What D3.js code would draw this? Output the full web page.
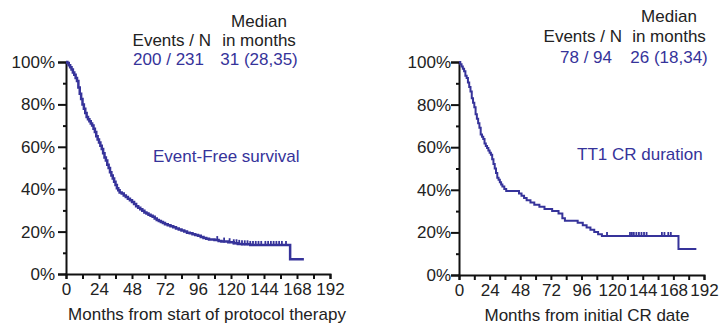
<!DOCTYPE html>
<html><head><meta charset="utf-8">
<script src="https://cdn.jsdelivr.net/npm/d3@7"></script>
<style>
body{margin:0;background:#fff;}
svg text{font-family:"Liberation Sans",Arial,Helvetica,sans-serif;}
</style></head>
<body><svg id="c" width="724" height="327"></svg>
<script>
// ---- Data ----
const xTicks = [0,24,48,72,96,120,144,168,192];
const yTicks = [0,20,40,60,80,100];

// Panel A: Event-Free survival (time in months, survival %)
const efsTime = [0,1,2,3,4,5,6,7,8,9,10,11,12,13,14,15,16,17,18,19,20,21,22,23,24,25,26,27,28,29,30,31,32,33,34,35,36,37,38,39,40.5,42,43.5,45,46.5,48,49.5,51,52.5,54,55.5,57,58.5,60,61.5,63,64.5,66,67.5,69,70.5,72,74,76,78,80,82,84,86,88,90,92,94,96,98,100,102,104,108,111,113,118,122,125,128,134,163];
const efsSurv = [100,99.5,98.5,97.5,96.5,95,94,92.5,91,88,85,82.5,80,78,76,74,73,72,71,70,68.5,67,65,63.5,62,60.5,59,57,55,53.5,51.5,50,48,46.5,45,43.5,42,40.5,39.5,38.5,38,37,36.3,35.5,34.8,34,33,32,31.3,30.5,29.8,29,28.5,28,27.5,27,26.2,25.5,25,24.5,24,23.5,23,22.5,22,21.5,21,20.5,20,19.5,19.2,18.8,18.4,18,17.5,17,16.6,16.3,16,15.6,15.3,15,14.5,14.2,14,13.7,6.9];
const efsEnd = 173;
const efsCensor = [110,115,119,122,124,126,128,130,132,134,136,138,140,142,145,147,149,151,153,155,157,160];

// Panel B: TT1 CR duration
const crTime = [0,1,2,3,4,5,6,7,8,9,10,11,12,13,14,15,16,17,18,19,20,21,22,23,24,25,26,27,28,29,30,31,32,33,34,35.5,37,47,49,51,53,56,59,63,67,73,78,81,83,93,97,100,103,106,109,112,172];
const crSurv = [100,99,97.9,96.8,95.7,93.6,92.5,90.4,88.3,86.2,83,80.9,78.7,75.5,73.4,71.3,69.1,66,64.9,63.8,61.7,60.6,59.6,58.5,57.4,56.4,54.3,52.1,50,47.9,45.7,44.7,43.6,42.5,41.5,40.4,39.4,38.3,37.2,36.2,35.1,34,33,32,31,30,28.9,26.6,25.5,24.5,23.4,22.3,21.3,20.2,19.1,18.3,12.2];
const crEnd = 186;
const crCensor = [116,134,135.5,137,139,141,143,145,147,159,161,164,166];

const headers = {
  A:{events:"200 / 231", median:"31 (28,35)", label:"Event-Free survival", xTitle:"Months from start of protocol therapy"},
  B:{events:"78 / 94", median:"26 (18,34)", label:"TT1 CR duration", xTitle:"Months from initial CR date"}
};

const blue = "#36339a";
const svg = d3.select("#c");

function panel(cfg){
  const x = d3.scaleLinear().domain([0,192]).range([cfg.x0,cfg.x1]);
  const y = d3.scaleLinear().domain([0,100]).range([cfg.y0,cfg.y1]);
  const g = svg.append("g");

  // y axis
  const ya = d3.axisLeft(y).tickValues(yTicks).tickFormat(d=>d+"%").tickSize(8).tickPadding(cfg.ypad);
  const yg = g.append("g").attr("transform",`translate(${cfg.x0},0)`).call(ya);
  const yminor = d3.axisLeft(y).tickValues([10,30,50,70,90]).tickFormat("").tickSize(3);
  const ym = g.append("g").attr("transform",`translate(${cfg.x0},0)`).call(yminor);
  // x axis
  const xa = d3.axisBottom(x).tickValues(xTicks).tickFormat(d3.format("d")).tickSize(5).tickPadding(4);
  const xg = g.append("g").attr("transform",`translate(0,${cfg.y0})`).call(xa);
  const xminor = d3.axisBottom(x).tickValues(d3.range(12,192,24)).tickFormat("").tickSize(5);
  const xm = g.append("g").attr("transform",`translate(0,${cfg.y0})`).call(xminor);
  [yg,ym,xg,xm].forEach(a=>{
    a.select(".domain").attr("stroke","#111").attr("stroke-width",2);
    a.selectAll(".tick line").attr("stroke","#111").attr("stroke-width",2);
    a.selectAll(".tick text").attr("fill","#222").style("font-size","17px")
      .style("font-family","'Liberation Sans',Arial,sans-serif");
  });
  ym.select(".domain").remove(); xm.select(".domain").remove();

  // curve
  const pts = cfg.t.map((t,i)=>[t,cfg.s[i]]);
  pts.push([cfg.end,cfg.s[cfg.s.length-1]]);
  const line = d3.line().x(d=>x(d[0])).y(d=>y(d[1])).curve(d3.curveStepAfter);
  g.append("path").attr("d",line(pts)).attr("fill","none").attr("stroke",blue).attr("stroke-width",cfg.lw);

  // censor marks
  const sAt = t=>{let v=cfg.s[0];for(let i=0;i<cfg.t.length;i++){if(cfg.t[i]<=t)v=cfg.s[i];}return v;};
  g.selectAll(".cens").data(cfg.censor).join("line")
    .attr("x1",d=>x(d)).attr("x2",d=>x(d))
    .attr("y1",d=>y(sAt(d))-4).attr("y2",d=>y(sAt(d))+1)
    .attr("stroke",blue).attr("stroke-width",1.8);

  const h = cfg.h;
  const txt = (s,xx,yy,col,anchor,fs)=>g.append("text").attr("x",xx).attr("y",yy).attr("fill",col)
    .attr("text-anchor",anchor||"start").style("font-size",(fs||17)+"px").text(s);
  txt("Median",cfg.medX,cfg.hy[0],"#222","middle");
  txt("Events / N",cfg.evX,cfg.hy[1],"#222","end");
  txt("in months",cfg.medX,cfg.hy[1],"#222","middle");
  txt(h.events,cfg.evX2,cfg.hy[2],blue,"end");
  txt(h.median,cfg.medX,cfg.hy[2],blue,"middle");
  txt(h.label,cfg.labX,cfg.labY,blue,"start");
  txt(h.xTitle,cfg.titX,cfg.titY,"#222","middle");
}

panel({x0:66,x1:330,y0:274,y1:62,ypad:3,t:efsTime,s:efsSurv,end:efsEnd,censor:efsCensor,lw:2.5,
  h:headers.A,medX:259,evX:211,evX2:204,hy:[27,46,65],labX:153,labY:162,titX:207,titY:320});
panel({x0:459,x1:704,y0:275,y1:62,ypad:0,t:crTime,s:crSurv,end:crEnd,censor:crCensor,lw:2,
  h:headers.B,medX:669,evX:622,evX2:612,hy:[22,42,63],labX:577,labY:160,titX:587,titY:321});
</script></body></html>
